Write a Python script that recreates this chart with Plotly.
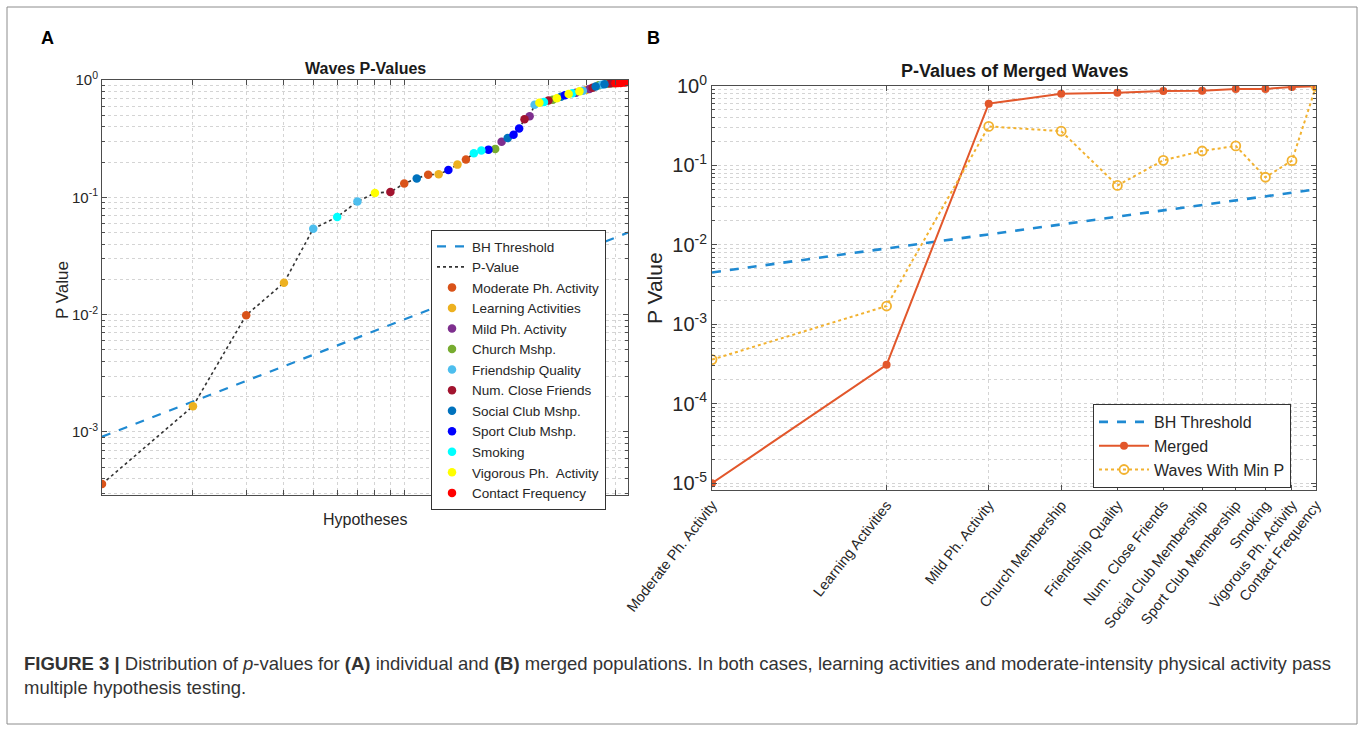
import plotly.graph_objects as go

W, H = 1365, 732

# ---------------- data ----------------
legend_names = ["Moderate Ph. Activity", "Learning Activities", "Mild Ph. Activity",
                "Church Mshp.", "Friendship Quality", "Num. Close Friends",
                "Social Club Mshp.", "Sport Club Mshp.", "Smoking",
                "Vigorous Ph.  Activity", "Contact Frequency"]
var_colors = ["#D95319", "#EDB120", "#7E2F8E", "#77AC30", "#4DBEEE", "#A2142F",
              "#0072BD", "#0000FF", "#00FFFF", "#FFFF00", "#FF0000"]

# Panel A: sorted hypotheses (index 1..55), variable of each, p-value of each
hyp_index = list(range(1, 56))
hyp_variable = [0, 1, 0, 1, 4, 8, 4, 9, 5, 0,
                6, 0, 1, 7, 1, 0, 8, 8, 7, 3,
                2, 6, 7, 7, 5, 2, 4, 9, 8, 5,
                3, 9, 6, 7, 9, 8, 2, 9, 4, 1,
                2, 5, 6, 3, 4, 6, 3, 5, 3, 10,
                10, 10, 10, 10, 2]
hyp_pvalue = [3.6e-4, 1.66e-3, 0.0099, 0.0187, 0.054, 0.068, 0.092, 0.109, 0.111, 0.131,
              0.145, 0.156, 0.157, 0.171, 0.19, 0.21, 0.238, 0.251, 0.255, 0.258,
              0.298, 0.32, 0.342, 0.386, 0.463, 0.49, 0.615, 0.64, 0.65, 0.67,
              0.68, 0.70, 0.72, 0.74, 0.76, 0.77, 0.78, 0.80, 0.81, 0.82,
              0.84, 0.86, 0.88, 0.90, 0.91, 0.92, 0.93, 0.935, 0.94, 0.94,
              0.945, 0.945, 0.95, 0.95, 1.0]
bh_a_x = [1, 55]
bh_a_y = [0.00091, 0.05]

# Panel B
b_categories = ["Moderate Ph. Activity", "Learning Activities", "Mild Ph. Activity",
                "Church Membership", "Friendship Quality", "Num. Close Friends",
                "Social Club Membership", "Sport Club Membership", "Smoking",
                "Vigorous Ph. Activity", "Contact Frequency"]
b_index = list(range(1, 12))
merged_p = [1.0e-5, 3.1e-4, 0.60, 0.80, 0.82, 0.865, 0.87, 0.92, 0.92, 0.97, 0.99]
min_wave_p = [3.6e-4, 1.7e-3, 0.31, 0.27, 0.056, 0.116, 0.152, 0.176, 0.071, 0.115, 0.99]
bh_b_x = [1, 11]
bh_b_y = [0.0045, 0.05]

ytick_a = [1e-3, 1e-2, 1e-1, 1]
ytick_a_text = ["10<sup>-3</sup>", "10<sup>-2</sup>", "10<sup>-1</sup>", "10<sup>0</sup>"]
ytick_b = [1e-5, 1e-4, 1e-3, 1e-2, 1e-1, 1]
ytick_b_text = ["10<sup>-5</sup>", "10<sup>-4</sup>", "10<sup>-3</sup>", "10<sup>-2</sup>",
                "10<sup>-1</sup>", "10<sup>0</sup>"]

# ---------------- helpers ----------------
FONT = "Liberation Sans, Arial, Helvetica, sans-serif"
AX = "#4d4d4d"
GRID = "#d4d4d4"
BH_BLUE = "#1f8ad2"


def px_x(x):
    return x / W


def px_y(y):
    return 1 - y / H


def minor_vals(lo_exp, hi_exp):
    vals = []
    for e in range(lo_exp, hi_exp + 1):
        for m in range(2, 10):
            vals.append(m * 10 ** e)
    return vals


fig = go.Figure()

# ---------------- Panel A ----------------
fig.add_trace(go.Scatter(x=bh_a_x, y=bh_a_y, mode="lines", name="BH Threshold",
                         line=dict(color=BH_BLUE, width=2.2, dash="dash"),
                         xaxis="x", yaxis="y", legend="legend"))
fig.add_trace(go.Scatter(x=hyp_index, y=hyp_pvalue, mode="lines", name="P-Value",
                         line=dict(color="#333333", width=1.6, dash="dot"),
                         xaxis="x", yaxis="y", legend="legend"))
for k, nm in enumerate(legend_names):
    xs = [hyp_index[i] for i in range(len(hyp_index)) if hyp_variable[i] == k]
    ys = [hyp_pvalue[i] for i in range(len(hyp_index)) if hyp_variable[i] == k]
    fig.add_trace(go.Scatter(x=xs, y=ys, mode="markers", name=nm,
                             marker=dict(color=var_colors[k], size=8.5, line=dict(width=0)),
                             xaxis="x", yaxis="y", legend="legend"))

# ---------------- Panel B ----------------
fig.add_trace(go.Scatter(x=bh_b_x, y=bh_b_y, mode="lines", name="BH Threshold",
                         line=dict(color=BH_BLUE, width=2.6, dash="dash"),
                         xaxis="x2", yaxis="y2", legend="legend2"))
fig.add_trace(go.Scatter(x=b_index, y=merged_p, mode="lines+markers", name="Merged",
                         line=dict(color="#E2572B", width=2),
                         marker=dict(color="#E2572B", size=8),
                         xaxis="x2", yaxis="y2", legend="legend2"))
fig.add_trace(go.Scatter(x=b_index, y=min_wave_p, mode="lines+markers", name="Waves With Min P",
                         line=dict(color="#F2B230", width=2, dash="dot"),
                         marker=dict(color="rgba(0,0,0,0)", size=9,
                                     line=dict(color="#F2B230", width=1.8)),
                         xaxis="x2", yaxis="y2", legend="legend2"))

common_axis = dict(showline=True, linecolor=AX, linewidth=1, mirror="allticks",
                   ticks="inside", tickcolor=AX, ticklen=5, showgrid=True,
                   gridcolor=GRID, griddash="dot", gridwidth=1, zeroline=False,
                   automargin=False)

fig.update_layout(
    width=W, height=H, margin=dict(l=0, r=0, t=0, b=0, autoexpand=False),
    paper_bgcolor="white", plot_bgcolor="white",
    font=dict(family=FONT, color="#262626"),
    xaxis=dict(type="log", domain=[px_x(102), px_x(628)], range=[0, 1.7404],
               tickmode="array", tickvals=[1, 2, 3, 4, 5, 6, 7, 8, 9, 10, 20, 30, 40, 50],
               showticklabels=False, anchor="y", **common_axis),
    yaxis=dict(type="log", domain=[px_y(495), px_y(80)], range=[-3.537, 0],
               tickmode="array", tickvals=ytick_a, ticktext=ytick_a_text,
               tickfont=dict(size=15, color="#262626"), anchor="x",
               minor=dict(tickmode="array", tickvals=minor_vals(-4, -1), ticks="inside",
                          ticklen=3, tickcolor=AX, showgrid=True, gridcolor=GRID,
                          griddash="dot"),
               **common_axis),
    xaxis2=dict(type="log", domain=[px_x(712), px_x(1316)], range=[0, 1.0414],
                tickmode="array", tickvals=b_index, ticktext=b_categories,
                tickangle=-52, tickfont=dict(size=14.5, color="#262626"),
                anchor="y2", **common_axis),
    yaxis2=dict(type="log", domain=[px_y(490), px_y(86)], range=[-5.085, 0],
                tickmode="array", tickvals=ytick_b, ticktext=ytick_b_text,
                tickfont=dict(size=20, color="#262626"), anchor="x2",
                minor=dict(tickmode="array", tickvals=minor_vals(-6, -1), ticks="inside",
                           ticklen=3, tickcolor=AX, showgrid=True, gridcolor=GRID,
                           griddash="dot"),
                **common_axis),
    legend=dict(x=px_x(431), y=px_y(230), xanchor="left", yanchor="top",
                bgcolor="white", bordercolor="#333333", borderwidth=1,
                font=dict(size=13.5, color="#262626"), tracegroupgap=0,
                itemwidth=30),
    legend2=dict(x=px_x(1093), y=px_y(404), xanchor="left", yanchor="top",
                 bgcolor="white", bordercolor="#333333", borderwidth=1,
                 font=dict(size=16, color="#262626"), tracegroupgap=0,
                 itemwidth=50),
    showlegend=True,
)

annotations = []


def ann(x, y, text, size, xanchor="center", yanchor="middle", angle=0, family=FONT, color="#262626"):
    annotations.append(dict(x=px_x(x), y=px_y(y), xref="paper", yref="paper", text=text,
                            showarrow=False, xanchor=xanchor, yanchor=yanchor,
                            textangle=angle, font=dict(size=size, family=family, color=color)))


ann(47, 38, "<b>A</b>", 18, color="black")
ann(653, 38, "<b>B</b>", 18, color="black")
ann(365, 68, "<b>Waves P-Values</b>", 16, color="#1a1a1a")
ann(1014, 71, "<b>P-Values of Merged Waves</b>", 18, color="#1a1a1a")
ann(62, 290, "P Value", 17, angle=-90)
ann(654, 288, "P Value", 21, angle=-90)
ann(365, 519, "Hypotheses", 16)

CAP = "Liberation Sans Narrow, Arial Narrow, Liberation Sans, Arial, sans-serif"
ann(22, 663, "<b>FIGURE 3 |</b> Distribution of <i>p</i>-values for <b>(A)</b> individual and "
    "<b>(B)</b> merged populations. In both cases, learning activities and moderate-intensity "
    "physical activity pass", 18.5, xanchor="left", family=CAP, color="#333333")
ann(22, 687, "multiple hypothesis testing.", 18.5, xanchor="left", family=CAP, color="#333333")

fig.update_layout(annotations=annotations)

fig.add_shape(type="rect", xref="paper", yref="paper",
              x0=px_x(7), x1=px_x(1357), y0=px_y(724), y1=px_y(7),
              line=dict(color="#8c8c8c", width=1), fillcolor="rgba(0,0,0,0)", layer="below")

fig.write_html("out.html", config={"displayModeBar": False},
               post_script="document.body.style.margin='0';document.body.style.overflow='hidden';")
